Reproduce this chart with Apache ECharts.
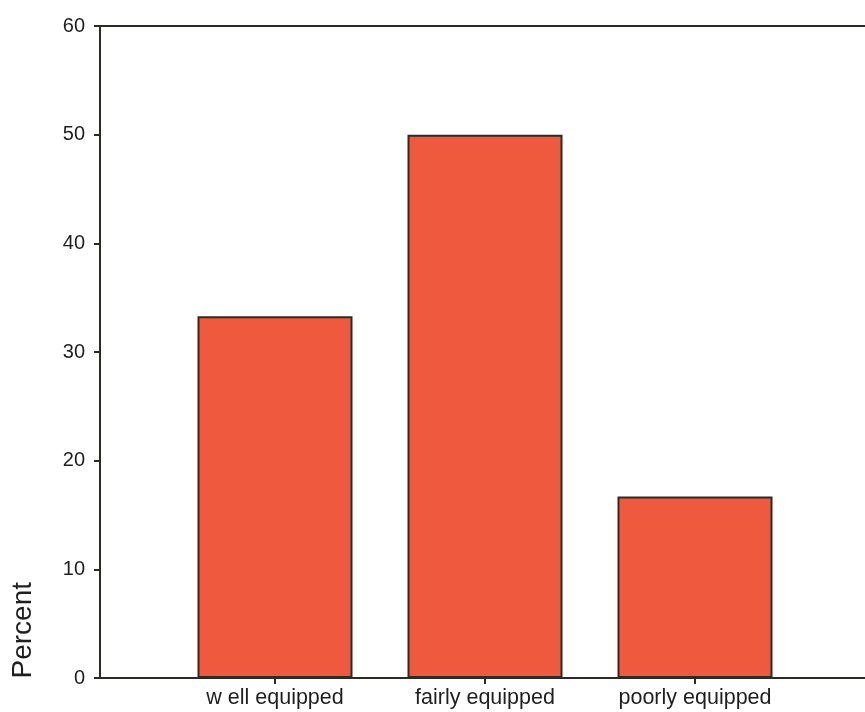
<!DOCTYPE html>
<html>
<head>
<meta charset="utf-8">
<script src="https://cdn.jsdelivr.net/npm/echarts@6/dist/echarts.min.js"></script>
<style>
html,body{margin:0;padding:0;background:#fff;}
#chart{width:865px;height:712px;}
</style>
</head>
<body>
<div id="chart"></div>
<script>
const categories = ['w ell equipped', 'fairly equipped', 'poorly equipped'];
const percentValues = [33.3, 50.0, 16.7];
const yTicks = [0, 10, 20, 30, 40, 50, 60];
const yAxisTitle = 'Percent';

const axisColor = '#2b2b26';
const textColor = '#1f1f1f';
const font = 'Liberation Sans, Arial, sans-serif';

const chart = echarts.init(document.getElementById('chart'), null, {renderer: 'canvas'});
chart.setOption({
  backgroundColor: '#ffffff',
  animation: false,
  grid: [
    {left: 100, right: 0, top: 26, bottom: 34},
    {left: 170, right: 65, top: 26, bottom: 34}
  ],
  xAxis: [
    {gridIndex: 0, type: 'value', position: 'bottom', min: 0, max: 1,
     axisLine: {show: true, lineStyle: {color: axisColor, width: 2}},
     axisTick: {show: false}, axisLabel: {show: false}, splitLine: {show: false}},
    {gridIndex: 0, type: 'value', position: 'top', min: 0, max: 1,
     axisLine: {show: true, lineStyle: {color: axisColor, width: 2}},
     axisTick: {show: false}, axisLabel: {show: false}, splitLine: {show: false}},
    {gridIndex: 1, type: 'category', data: categories, position: 'bottom',
     axisLine: {show: false},
     axisTick: {show: true, alignWithLabel: true, length: 6, lineStyle: {color: axisColor, width: 2}},
     axisLabel: {color: textColor, fontSize: 21.5, fontFamily: font, margin: 9}}
  ],
  yAxis: [
    {gridIndex: 0, type: 'value', min: yTicks[0], max: yTicks[yTicks.length - 1], interval: 10,
     axisLine: {show: true, lineStyle: {color: axisColor, width: 2}},
     axisTick: {show: true, inside: false, length: 6, lineStyle: {color: axisColor, width: 2}},
     axisLabel: {color: textColor, fontSize: 20, fontFamily: font, margin: 15},
     splitLine: {show: false}},
    {gridIndex: 1, type: 'value', min: yTicks[0], max: yTicks[yTicks.length - 1], interval: 10,
     show: false, splitLine: {show: false}}
  ],
  graphic: [
    {type: 'text', left: 9, top: 582, rotation: Math.PI / 2,
     style: {text: yAxisTitle, fill: textColor, font: '28px ' + font}}
  ],
  series: [
    {type: 'bar', xAxisIndex: 2, yAxisIndex: 1, data: percentValues, barWidth: 155,
     itemStyle: {color: '#ef5a3f', borderColor: '#2f2a22', borderWidth: 2}}
  ]
});
</script>
</body>
</html>
